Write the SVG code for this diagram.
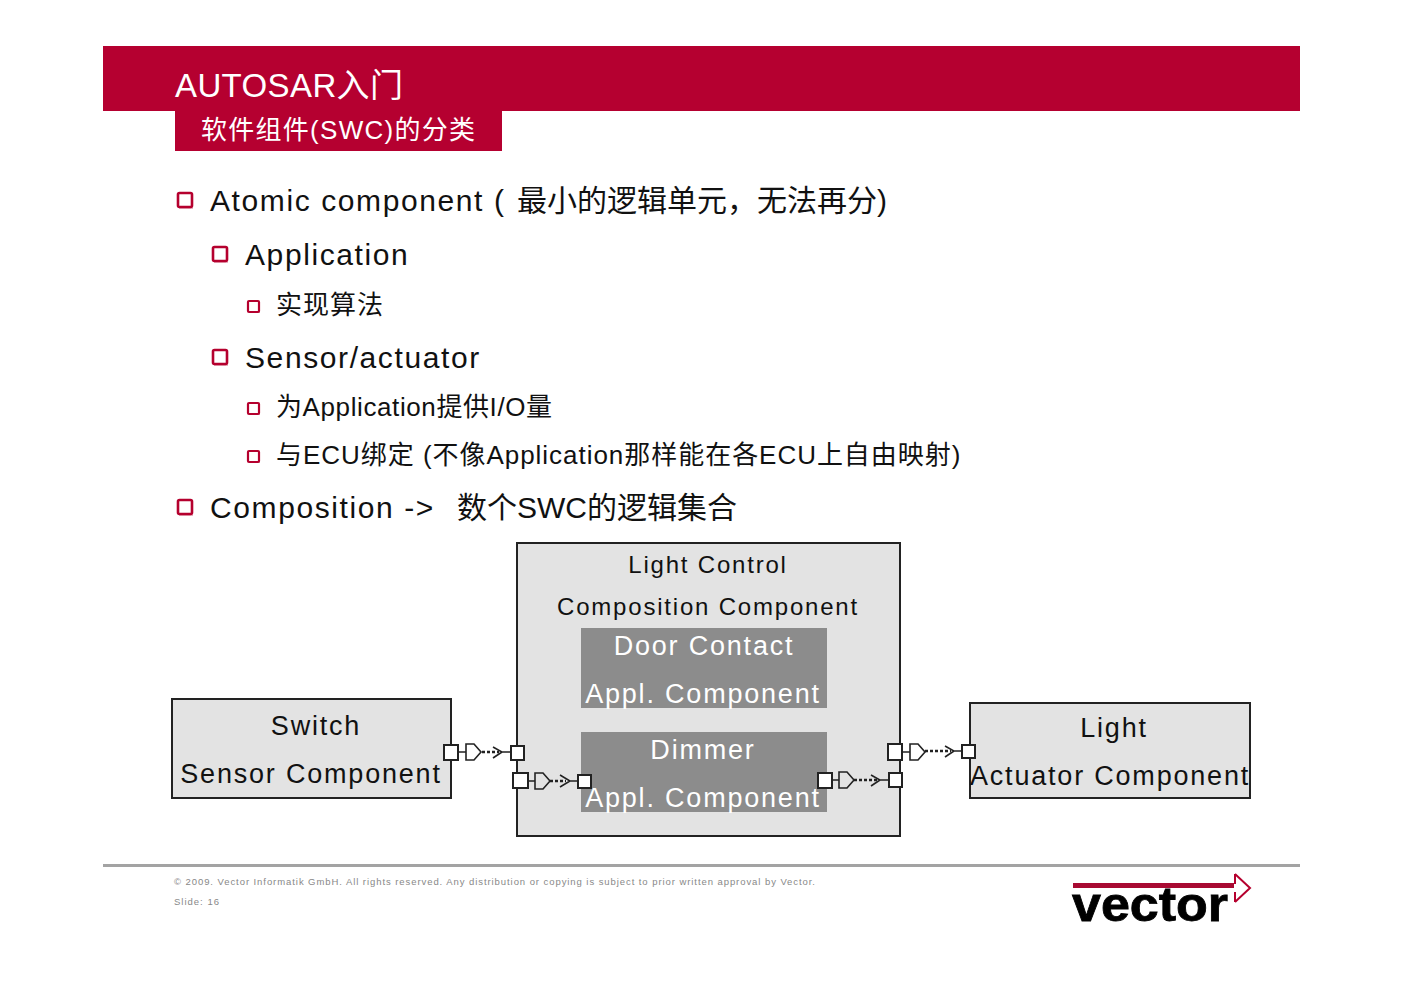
<svg xmlns="http://www.w3.org/2000/svg" xmlns:xlink="http://www.w3.org/1999/xlink" width="1403" height="992" viewBox="0 0 1403 992">
<style>
text{font-family:"Liberation Sans","Noto Sans CJK SC",sans-serif;fill:#111}
.l1{font-size:30px;letter-spacing:1.6px}
.l2{font-size:30px;letter-spacing:1.6px}
.l3{font-size:26px;letter-spacing:.6px}
.box{fill:#e3e3e3;stroke:#222;stroke-width:2}
.inner{fill:#8c8c8c}
.dt{font-size:27px;letter-spacing:1.8px;text-anchor:middle}
.wt{fill:#fff}
.port{fill:#fff;stroke:#222;stroke-width:2}
.ln{fill:none;stroke:#222;stroke-width:1.6}
.dot{fill:none;stroke:#222;stroke-width:2.4;stroke-dasharray:3 2}
.ft{font-size:9.5px;letter-spacing:1px;fill:#888}
</style>
<defs>
<g id="b1"><rect x="1" y="3" width="14" height="14" fill="#e8b4c2"/><rect x="0" y="1" width="14" height="14" rx="1.5" fill="#fff" stroke="#b5002e" stroke-width="2.6"/></g>
<g id="b2"><rect x="1" y="2" width="11" height="11" fill="#e8b4c2"/><rect x="0" y="1" width="11" height="11" rx="1" fill="#fff" stroke="#b5002e" stroke-width="2.2"/></g>
<path id="gate" class="ln" d="M0-8H8L15 0 8 8H0Z" fill="#fff"/>
</defs>

<g id="header">
<rect x="103" y="46" width="1197" height="65" fill="#b50030"/>
<rect x="175" y="111" width="327" height="40" fill="#b50030"/>
<text x="175" y="97" style="fill:#fff;font-size:33px" textLength="228">AUTOSAR入门</text>
<text x="201" y="139" style="fill:#fff;font-size:26px" textLength="274">软件组件(SWC)的分类</text>
</g>

<g id="bullets">
<use href="#b1" x="178" y="192"/>
<text class="l1" x="210" y="211">Atomic component (<tspan x="517" style="letter-spacing:0">最小的逻辑单元，无法再分)</tspan></text>
<use href="#b1" x="213" y="246"/>
<text class="l2" x="245" y="265">Application</text>
<use href="#b2" x="248" y="300"/>
<text class="l3" x="276" y="314" style="letter-spacing:1px">实现算法</text>
<use href="#b1" x="213" y="349"/>
<text class="l2" x="245" y="368">Sensor/actuator</text>
<use href="#b2" x="248" y="402"/>
<text class="l3" x="276" y="416">为Application提供I/O量</text>
<use href="#b2" x="248" y="450"/>
<text class="l3" x="276" y="464" textLength="685">与ECU绑定 (不像Application那样能在各ECU上自由映射)</text>
<use href="#b1" x="178" y="499"/>
<text class="l1" x="210" y="518">Composition -&gt;<tspan x="457" style="letter-spacing:0">数个SWC的逻辑集合</tspan></text>
</g>

<g id="switch">
<rect class="box" x="172" y="699" width="279" height="99"/>
<text class="dt" x="316" y="735">Switch</text>
<text class="dt" x="311" y="783">Sensor Component</text>
</g>
<g id="composition">
<rect class="box" x="517" y="543" width="383" height="293"/>
<text class="dt" style="font-size:24px" x="708" y="573">Light Control</text>
<text class="dt" style="font-size:24px" x="708" y="615">Composition Component</text>
</g>
<g id="door">
<rect class="inner" x="581" y="628" width="246" height="80"/>
<text class="dt wt" x="704" y="655">Door Contact</text>
<text class="dt wt" x="703" y="703">Appl. Component</text>
</g>
<g id="dimmer">
<rect class="inner" x="581" y="732" width="246" height="80"/>
<text class="dt wt" x="703" y="759">Dimmer</text>
<text class="dt wt" x="703" y="807">Appl. Component</text>
</g>
<g id="light">
<rect class="box" x="970" y="703" width="280" height="95"/>
<text class="dt" x="1114" y="737">Light</text>
<text class="dt" x="1110" y="785">Actuator Component</text>
</g>

<g id="connectors">
<g>
<path class="ln" d="M458 752H466M493 747L502 752 493 758M502 752H511"/><path class="dot" d="M482 752H499"/>
<use href="#gate" x="466" y="752"/>
<rect class="port" x="444" y="745" width="14" height="15"/><rect class="port" x="511" y="746" width="13" height="14"/>
</g>
<g>
<path class="ln" d="M528 781H535M560 775L570 781 560 787M570 781H577"/><path class="dot" d="M550 781H566"/>
<use href="#gate" x="535" y="781"/>
<rect class="port" x="513" y="773" width="15" height="15"/><rect class="port" x="578" y="775" width="13" height="13"/>
</g>
<g>
<path class="ln" d="M832 780H839M871 775L880 780 871 786M880 780H889"/><path class="dot" d="M854 780H877"/>
<use href="#gate" x="839" y="780"/>
<rect class="port" x="818" y="773" width="14" height="15"/><rect class="port" x="889" y="773" width="13" height="14"/>
</g>
<g>
<path class="ln" d="M902 752H910M945 746L954 751 945 757M954 751H962"/><path class="dot" d="M925 751H951"/>
<use href="#gate" x="910" y="752"/>
<rect class="port" x="888" y="744" width="14" height="16"/><rect class="port" x="962" y="745" width="13" height="13"/>
</g>
</g>

<g id="footer">
<rect x="103" y="864" width="1197" height="3" fill="#a3a3a3"/>
<text class="ft" x="174" y="885" textLength="642">© 2009. Vector Informatik GmbH. All rights reserved. Any distribution or copying is subject to prior written approval by Vector.</text>
<text class="ft" x="174" y="905">Slide: 16</text>
</g>

<g id="logo">
<rect x="1073" y="883" width="161" height="5" fill="#a80a32"/>
<path d="M1235 874L1250 888 1235 902" fill="none" stroke="#b5002e" stroke-width="2"/>
<path d="M1235 874V884M1235 892V902" fill="none" stroke="#b5002e" stroke-width="2"/>
<text x="1072" y="921" textLength="156" lengthAdjust="spacingAndGlyphs" style="font-size:48px;font-weight:700;fill:#000;stroke:#000;stroke-width:.8">vector</text>
</g>
</svg>
